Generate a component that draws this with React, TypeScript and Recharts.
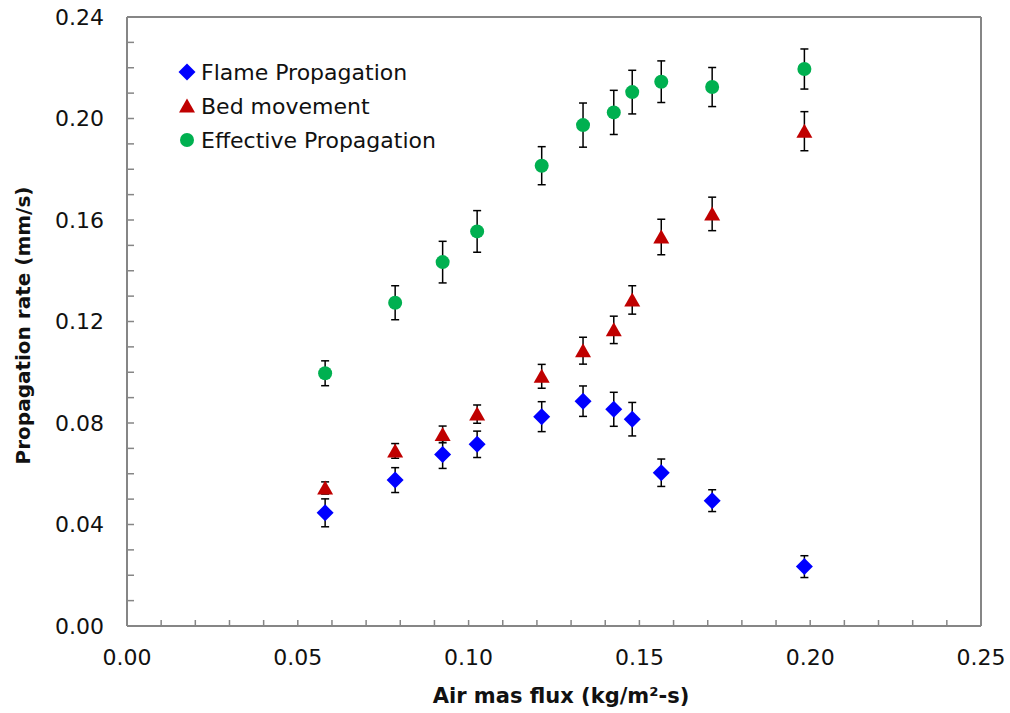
import React from "react";
import {
  ScatterChart,
  Scatter,
  XAxis,
  YAxis,
  ErrorBar,
  Legend,
  Label,
  ReferenceLine,
} from "recharts";

// Air mass flux (kg/m²-s) for each test
const airFlux = [0.058, 0.0785, 0.0924, 0.1025, 0.1214, 0.1335, 0.1425, 0.1479, 0.1564, 0.1713, 0.1983];

// Flame propagation rate (mm/s) and its uncertainty
const flame = [0.0446, 0.0575, 0.0676, 0.0716, 0.0825, 0.0886, 0.0854, 0.0815, 0.0604, 0.0494, 0.0234];
const flameErr = [0.0055, 0.0049, 0.0055, 0.0052, 0.0059, 0.006, 0.0067, 0.0066, 0.0054, 0.0043, 0.0043];

// Bed movement rate (mm/s) and its uncertainty
const bed = [0.0544, 0.069, 0.0755, 0.0835, 0.0984, 0.1085, 0.1167, 0.1285, 0.1533, 0.1624, 0.195];
const bedErr = [0.0024, 0.0029, 0.0033, 0.0036, 0.0047, 0.0053, 0.0054, 0.0056, 0.007, 0.0066, 0.0077];

// Effective propagation rate (mm/s) and its uncertainty
const effective = [0.0996, 0.1274, 0.1434, 0.1555, 0.1814, 0.1974, 0.2024, 0.2104, 0.2145, 0.2124, 0.2195];
const effectiveErr = [0.0049, 0.0067, 0.0082, 0.0082, 0.0075, 0.0087, 0.0087, 0.0086, 0.0082, 0.0077, 0.0079];

// Axis ticks: minor every 0.01, labelled every 0.05 (x) and 0.04 (y)
const xTicks = Array.from({ length: 26 }, (_, i) => i / 100);
const yTicks = Array.from({ length: 25 }, (_, i) => i / 100);

const seriesNames = ["Flame Propagation", "Bed movement", "Effective Propagation"];
const BLUE = "#0000FF";
const RED = "#C00000";
const GREEN = "#00B050";
const AXIS = "#868686";
const FONT = "'DejaVu Sans', Verdana, sans-serif";

const toRows = (vals: number[], errs: number[]) =>
  airFlux.map((x, i) => ({ x, y: vals[i], err: errs[i] }));

const flameRows = toRows(flame, flameErr);
const bedRows = toRows(bed, bedErr);
const effectiveRows = toRows(effective, effectiveErr);

const Diamond = ({ cx, cy, fill }: any) => (
  <polygon
    points={`${cx},${cy - 8.5} ${cx + 8.5},${cy} ${cx},${cy + 8.5} ${cx - 8.5},${cy}`}
    fill={fill}
  />
);
const Triangle = ({ cx, cy, fill }: any) => (
  <polygon points={`${cx},${cy - 7.5} ${cx + 8},${cy + 6.5} ${cx - 8},${cy + 6.5}`} fill={fill} />
);
const Dot = ({ cx, cy, fill }: any) => <circle cx={cx} cy={cy} r={7} fill={fill} />;

const XTick = (props: any) => {
  const { x, y, payload } = props;
  const v = payload.value as number;
  const major = Math.round(v * 100) % 5 === 0;
  return (
    <g>
      <line x1={x} x2={x} y1={y} y2={y - 6} stroke={AXIS} strokeWidth={1.5} />
      {major && (
        <text x={x} y={y + 39} textAnchor="middle" fontFamily={FONT} fontSize={22} fill="#111">
          {v.toFixed(2)}
        </text>
      )}
    </g>
  );
};

const YTick = (props: any) => {
  const { x, y, payload } = props;
  const v = payload.value as number;
  const major = Math.round(v * 100) % 4 === 0;
  return (
    <g>
      <line x1={x} x2={x + 7} y1={y} y2={y} stroke={AXIS} strokeWidth={1.5} />
      {major && (
        <text x={x - 23} y={y} dy="0.36em" textAnchor="end" fontFamily={FONT} fontSize={22} fill="#111">
          {v.toFixed(2)}
        </text>
      )}
    </g>
  );
};

const legendMarkers = [
  (c: string) => <polygon points="9,0.5 17.5,9 9,17.5 0.5,9" fill={c} />,
  (c: string) => <polygon points="9,1.5 17,15.5 1,15.5" fill={c} />,
  (c: string) => <circle cx={9} cy={9} r={7} fill={c} />,
];
const legendColors = [BLUE, RED, GREEN];

const LegendContent = () => (
  <div style={{ fontFamily: FONT, fontSize: 22, color: "#111" }}>
    {seriesNames.map((name, i) => (
      <div key={name} style={{ display: "flex", alignItems: "center", height: 34 }}>
        <svg width={18} height={18} style={{ marginRight: 5 }}>
          {legendMarkers[i](legendColors[i])}
        </svg>
        <span style={{ whiteSpace: "nowrap" }}>{name}</span>
      </div>
    ))}
  </div>
);

export default function App() {
  return (
    <div style={{ position: "absolute", left: 0, top: 0, background: "#fff" }}>
      <ScatterChart width={1010} height={713} margin={{ top: 17, right: 29, bottom: 27, left: 47 }}>
        <XAxis
          type="number"
          dataKey="x"
          domain={[0, 0.25]}
          ticks={xTicks}
          interval={0}
          tickSize={0}
          tickMargin={0}
          tickLine={false}
          tick={<XTick />}
          height={60}
          axisLine={{ stroke: AXIS, strokeWidth: 2 }}
        >
          <Label
            content={({ viewBox }: any) => (
              <text
                x={viewBox.x + viewBox.width / 2 + 7}
                y={viewBox.y + 77}
                textAnchor="middle"
                fontFamily={FONT}
                fontWeight="bold"
                fontSize={21}
                fill="#111"
              >
                Air mas flux (kg/m²-s)
              </text>
            )}
          />
        </XAxis>
        <YAxis
          type="number"
          dataKey="y"
          domain={[0, 0.24]}
          ticks={yTicks}
          interval={0}
          tickSize={0}
          tickMargin={0}
          tickLine={false}
          tick={<YTick />}
          width={80}
          axisLine={{ stroke: AXIS, strokeWidth: 2 }}
        >
          <Label
            content={({ viewBox }: any) => {
              const cx = viewBox.x - 17;
              const cy = viewBox.y + viewBox.height / 2 + 4;
              return (
                <text
                  x={cx}
                  y={cy}
                  transform={`rotate(-90 ${cx} ${cy})`}
                  textAnchor="middle"
                  fontFamily={FONT}
                  fontWeight="bold"
                  fontSize={20}
                  fill="#111"
                >
                  Propagation rate (mm/s)
                </text>
              );
            }}
          />
        </YAxis>
        <ReferenceLine y={0.24} stroke={AXIS} strokeWidth={2} />
        <ReferenceLine x={0.25} stroke={AXIS} strokeWidth={2} />
        <Legend
          layout="vertical"
          align="center"
          verticalAlign="middle"
          wrapperStyle={{ left: 178, top: 55, width: 320 }}
          content={<LegendContent />}
        />
        <Scatter name={seriesNames[0]} data={flameRows} fill={BLUE} shape={<Diamond />} isAnimationActive={false}>
          <ErrorBar dataKey="err" direction="y" width={4} stroke="#000" strokeWidth={1.5} />
        </Scatter>
        <Scatter name={seriesNames[1]} data={bedRows} fill={RED} shape={<Triangle />} isAnimationActive={false}>
          <ErrorBar dataKey="err" direction="y" width={4} stroke="#000" strokeWidth={1.5} />
        </Scatter>
        <Scatter name={seriesNames[2]} data={effectiveRows} fill={GREEN} shape={<Dot />} isAnimationActive={false}>
          <ErrorBar dataKey="err" direction="y" width={4} stroke="#000" strokeWidth={1.5} />
        </Scatter>
      </ScatterChart>
    </div>
  );
}
